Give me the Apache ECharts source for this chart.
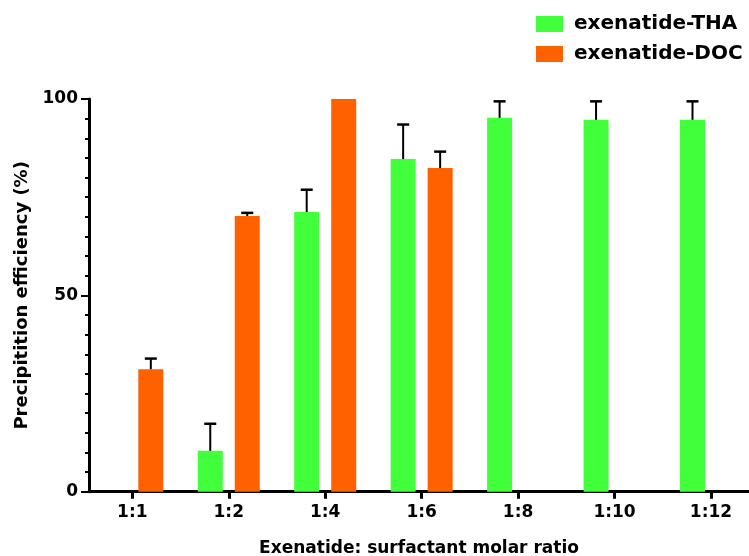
<!DOCTYPE html>
<html>
<head>
<meta charset="utf-8">
<script src="https://cdn.jsdelivr.net/npm/echarts@6/dist/echarts.min.js"></script>
<style>
html,body{margin:0;padding:0;background:#fff;}
#chart{width:749px;height:556px;}
</style>
</head>
<body>
<div id="chart"></div>
<script>
// ---- data ----
var categories = ['1:1', '1:2', '1:4', '1:6', '1:8', '1:10', '1:12'];
var thaMean = [null, 10.4, 71.2, 84.7, 95.2, 94.7, 94.7];
var thaErr  = [null, 6.9, 5.7, 8.8, 4.2, 4.7, 4.7];
var docMean = [31.2, 70.2, 100, 82.4, null, null, null];
var docErr  = [2.7, 0.8, 0, 4.2, null, null, null];
var yTicks = [0, 50, 100];

// ---- styles ----
var FONT = 'DejaVu Sans';
var GREEN = '#42ff3c';
var ORANGE = '#ff6100';
var BAR_W = 25;
var BAR_GAP = 12;
var SHIFT = (BAR_W + BAR_GAP) / 2;

function barData(vals) {
  var out = [];
  vals.forEach(function (v, i) { if (v !== null) out.push([i, v]); });
  return out;
}
function errData(vals, errs) {
  var out = [];
  vals.forEach(function (v, i) { if (v !== null && errs[i]) out.push([i, v, errs[i]]); });
  return out;
}
function errRenderer(sign) {
  return function (params, api) {
    var x = api.value(0), y = api.value(1), e = api.value(2);
    var p0 = api.coord([x, y]);
    var p1 = api.coord([x, y + e]);
    var cx = p0[0] + sign * SHIFT;
    return {
      type: 'group',
      children: [
        { type: 'line', shape: { x1: cx, y1: p0[1], x2: cx, y2: p1[1] }, style: { stroke: '#000', lineWidth: 2 } },
        { type: 'line', shape: { x1: cx - 6, y1: p1[1], x2: cx + 6, y2: p1[1] }, style: { stroke: '#000', lineWidth: 2.5 } }
      ]
    };
  };
}

var idx = categories.map(function (c, i) { return i; });
var chart = echarts.init(document.getElementById('chart'), null, { renderer: 'canvas' });
chart.setOption({
  animation: false,
  backgroundColor: '#fff',
  textStyle: { fontFamily: FONT },
  grid: { left: 89, right: 0, top: 99, bottom: 64.3, containLabel: false, outerBoundsMode: 'none' },
  legend: {
    orient: 'vertical',
    left: 531,
    top: 9,
    itemWidth: 27,
    itemHeight: 16,
    itemGap: 10,
    icon: 'rect',
    data: ['exenatide-THA', 'exenatide-DOC'],
    textStyle: { fontFamily: FONT, fontWeight: 'bold', fontSize: 20, color: '#000', padding: [0, 0, 0, 6] }
  },
  xAxis: {
    type: 'value',
    min: -0.449,
    max: 6.394,
    name: 'Exenatide: surfactant molar ratio',
    nameLocation: 'middle',
    nameGap: 48,
    nameTextStyle: { fontFamily: FONT, fontWeight: 'bold', fontSize: 17, color: '#000' },
    splitLine: { show: false },
    axisLine: { onZero: false, lineStyle: { color: '#000', width: 3 } },
    axisTick: { customValues: idx, length: 7, lineStyle: { color: '#000', width: 3 } },
    axisLabel: {
      customValues: idx,
      margin: 12,
      fontFamily: FONT, fontWeight: 'bold', fontSize: 17, color: '#000',
      formatter: function (v) { return categories[Math.round(v)]; }
    }
  },
  yAxis: {
    type: 'value',
    min: 0,
    max: 100,
    interval: 50,
    name: 'Precipitition efficiency (%)',
    nameLocation: 'middle',
    nameGap: 49,
    nameTextStyle: { fontFamily: FONT, fontWeight: 'bold', fontSize: 18, color: '#000' },
    splitLine: { show: false },
    axisLine: { show: true, onZero: false, lineStyle: { color: '#000', width: 3 } },
    axisTick: { show: true, length: 8, lineStyle: { color: '#000', width: 2 } },
    minorTick: { show: true, splitNumber: 10, length: 4, lineStyle: { color: '#000', width: 2 } },
    axisLabel: {
      customValues: yTicks,
      margin: 11,
      fontFamily: FONT, fontWeight: 'bold', fontSize: 17, color: '#000'
    }
  },
  series: [
    { name: 'exenatide-THA', type: 'bar', barWidth: BAR_W, barGap: (BAR_GAP / BAR_W * 100) + '%',
      itemStyle: { color: GREEN }, data: barData(thaMean) },
    { name: 'exenatide-DOC', type: 'bar', barWidth: BAR_W, barGap: (BAR_GAP / BAR_W * 100) + '%',
      itemStyle: { color: ORANGE }, data: barData(docMean) },
    { name: 'THA err', type: 'custom', z: 5, renderItem: errRenderer(-1),
      encode: { x: 0, y: 1 }, data: errData(thaMean, thaErr) },
    { name: 'DOC err', type: 'custom', z: 5, renderItem: errRenderer(1),
      encode: { x: 0, y: 1 }, data: errData(docMean, docErr) }
  ]
});
</script>
</body>
</html>
